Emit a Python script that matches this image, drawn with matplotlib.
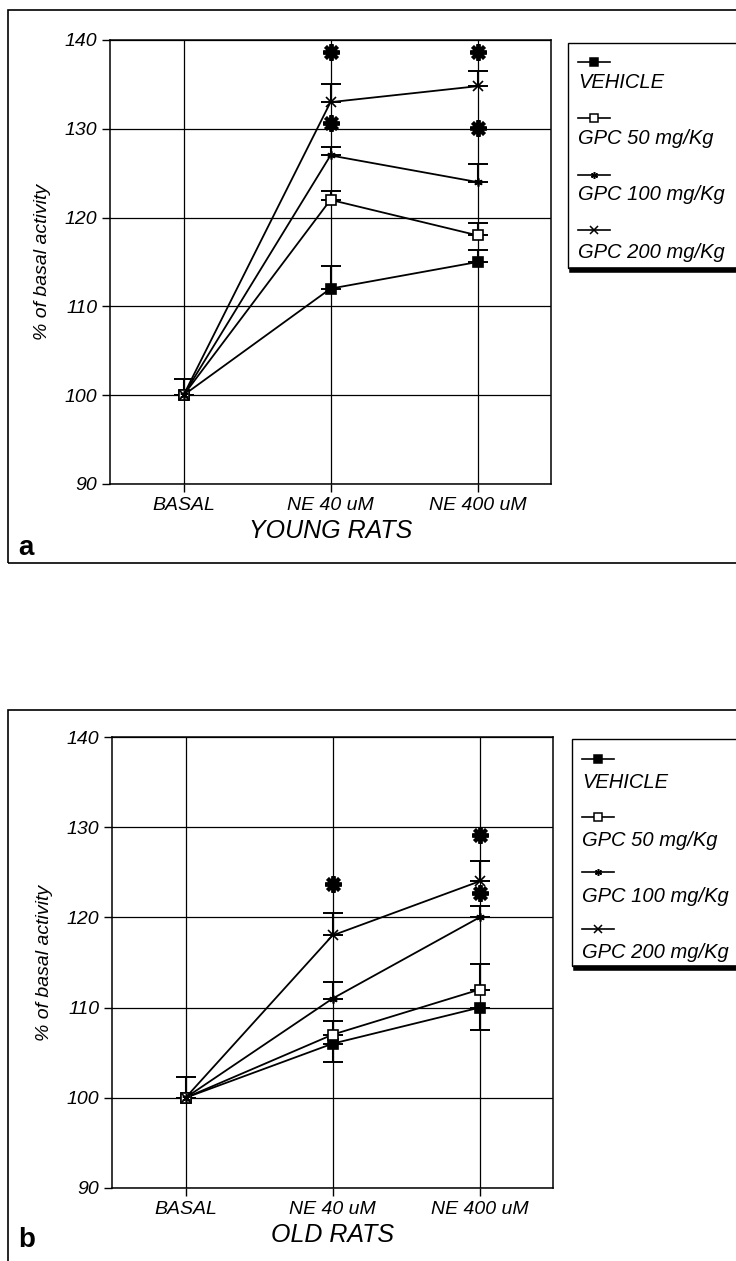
import numpy as np
import matplotlib
matplotlib.use('Agg')
import matplotlib.pyplot as plt
from matplotlib.lines import Line2D
from matplotlib.patches import Rectangle

plt.rcParams['font.family'] = ['Liberation Sans', 'DejaVu Sans']

categorias = ['BASAL', 'NE 40 uM', 'NE 400 uM']
series = ['VEHICLE', 'GPC 50 mg/Kg', 'GPC 100 mg/Kg', 'GPC 200 mg/Kg']
marcadores = ['s', 's', (6, 2, 0), 'x']
relleno = ['black', 'white', 'black', 'black']
tam_marca = [7, 7, 6, 7]

# panel a - ratas jovenes
young = [[100, 112, 115],
         [100, 122, 118],
         [100, 127, 124],
         [100, 133, 134.8]]
young_err_up = [[1.8, 2.5, 1.4],
                [0, 1.0, 1.4],
                [0, 1.0, 2.0],
                [0, 2.0, 1.7]]
young_err_lo = [[0, 0, 0], [0, 0, 0], [0, 0, 0], [0, 0, 0]]
young_ast_x = [1, 1, 2, 2]
young_ast_y = [138.6, 130.7, 138.6, 130.1]

# panel b - ratas viejas
old = [[100, 106, 110],
       [100, 107, 112],
       [100, 111, 120],
       [100, 118, 124]]
old_err_up = [[2.3, 0, 0],
              [0, 1.5, 2.8],
              [0, 1.8, 1.3],
              [0, 2.5, 2.2]]
old_err_lo = [[0, 2.0, 2.5], [0, 0, 0], [0, 0, 0], [0, 0, 0]]
old_ast_x = [1, 2, 2]
old_ast_y = [123.7, 129.1, 122.7]

fig = plt.figure(figsize=(7.36, 12.61), dpi=100)
W, H = 736.0, 1261.0


def px(x, y):
    return x / W, 1 - y / H


def panel(rect, datos, eup, elo, ast_x, ast_y, titulo):
    ax = fig.add_axes(rect)
    xs = np.arange(len(categorias)) + 0.5
    for i in range(len(series)):
        ax.errorbar(xs, datos[i], yerr=[elo[i], eup[i]], fmt='none',
                    ecolor='black', elinewidth=1.5, capsize=7, capthick=1.4, zorder=3)
    for i in range(len(series)):
        ax.plot(xs, datos[i], color='black', lw=1.3, marker=marcadores[i],
                mfc=relleno[i], mec='black', ms=tam_marca[i], mew=1.2, zorder=4)
    ax.plot(np.array(ast_x) + 0.5, ast_y, ls='none', marker=(8, 2, 0),
            ms=12, mew=2.8, color='black', zorder=5)
    ax.set_xlim(0, 3)
    ax.set_ylim(90, 140)
    ax.set_xticks(xs)
    ax.set_xticklabels(categorias, style='italic', fontsize=14)
    ax.set_yticks([90, 100, 110, 120, 130, 140])
    ax.set_yticklabels(['90', '100', '110', '120', '130', '140'], style='italic', fontsize=14)
    ax.tick_params(direction='out', length=6, width=1, pad=3)
    ax.grid(True, color='black', lw=0.9)
    for s in ax.spines.values():
        s.set_linewidth(1.1)
    ax.set_ylabel('% of basal activity', style='italic', fontsize=14, labelpad=10)
    ax.set_xlabel(titulo, style='italic', fontsize=18, labelpad=4)
    return ax


panel([110 / W, 1 - 484 / H, 441 / W, 444 / H], young, young_err_up, young_err_lo,
      young_ast_x, young_ast_y, 'YOUNG RATS')
panel([112 / W, 1 - 1188 / H, 441 / W, 451 / H], old, old_err_up, old_err_lo,
      old_ast_x, old_ast_y, 'OLD RATS')


def leyenda(top, bottom, left, lineas_y, textos_y):
    x0, y0 = px(left, bottom)
    x1, y1 = px(W + 20, top)
    fig.add_artist(Rectangle((x0, y0), x1 - x0, y1 - y0, transform=fig.transFigure,
                             fill=False, ec='black', lw=1.0))
    a, b = px(left + 4, bottom + 2)
    fig.add_artist(Line2D([a, 1.0], [b, b], transform=fig.transFigure, color='black', lw=4))
    for i in range(len(series)):
        la, ly = px(left + 10, lineas_y[i])
        lb, _ = px(left + 42, lineas_y[i])
        fig.add_artist(Line2D([la, lb], [ly, ly], transform=fig.transFigure, color='black',
                              lw=1.2))
        fig.add_artist(Line2D([(la + lb) / 2], [ly], transform=fig.transFigure, ls='none',
                              marker=marcadores[i], mfc=relleno[i], mec='black',
                              ms=tam_marca[i] - 1, mew=1.1))
        tx, ty = px(left + 10, textos_y[i])
        fig.text(tx, ty, series[i], style='italic', fontsize=14.5, va='center', ha='left')


leyenda(43, 268, 568, [62, 118, 175, 230], [82, 138, 195, 252])
leyenda(739, 966, 572, [759, 817, 872, 929], [783, 840, 897, 952])

# marcos de cada panel
for top, bottom in [(10, 563), (710, 1275)]:
    x0, y0 = px(8, bottom)
    x1, y1 = px(W + 20, top)
    fig.add_artist(Rectangle((x0, y0), x1 - x0, y1 - y0, transform=fig.transFigure,
                             fill=False, ec='black', lw=1.2))

fig.text(*px(18, 548), 'a', fontsize=20, fontweight='bold', va='center', ha='left')
fig.text(*px(18, 1240), 'b', fontsize=20, fontweight='bold', va='center', ha='left')

fig.savefig('out.png', dpi=100)
